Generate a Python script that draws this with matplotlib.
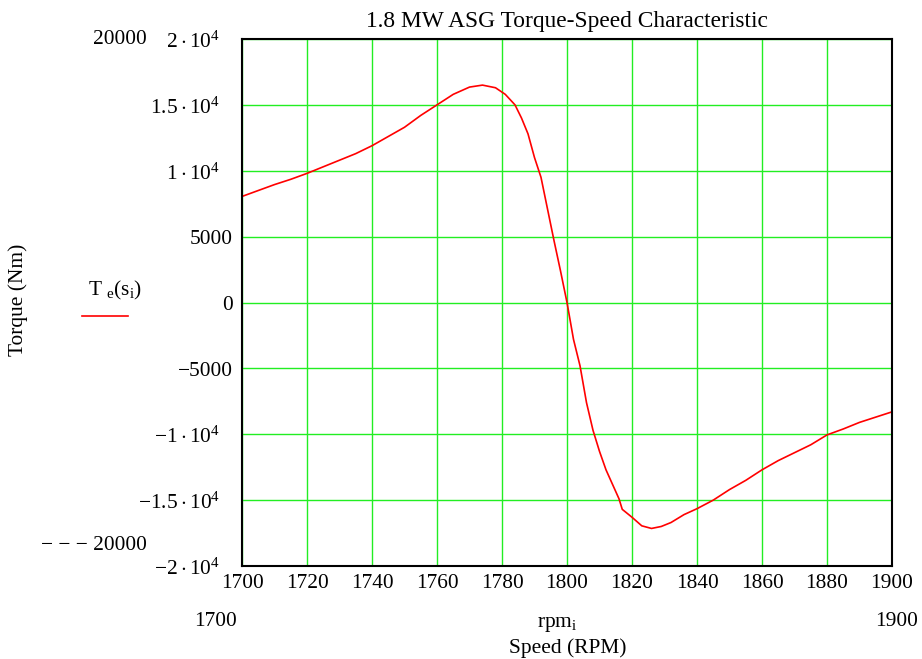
import numpy as np
import matplotlib
matplotlib.use('Agg')
import matplotlib.pyplot as plt
import matplotlib.transforms as mtransforms
from matplotlib.lines import Line2D

plt.rcParams['font.family'] = 'Liberation Serif'
plt.rcParams['mathtext.fontset'] = 'custom'
plt.rcParams['mathtext.rm'] = 'Liberation Serif'
plt.rcParams['mathtext.it'] = 'Liberation Serif'

# ---- data ----
rpm = [1700, 1705, 1710, 1715, 1720, 1725, 1730, 1735, 1740, 1745,
       1750, 1755, 1760, 1765, 1770, 1774, 1778, 1781, 1784, 1786,
       1788, 1790, 1792, 1794, 1796, 1798, 1800, 1802, 1804, 1806,
       1808, 1810, 1812, 1814, 1816, 1817, 1820, 1823, 1826, 1829,
       1832, 1836, 1840, 1845, 1850, 1855, 1860, 1865, 1870, 1875,
       1880, 1885, 1890, 1895, 1900]
torque = [8050, 8500, 8950, 9350, 9800, 10300, 10800, 11300, 11900, 12600,
          13300, 14200, 15000, 15800, 16350, 16500, 16300, 15800, 15000, 14000,
          12800, 11000, 9500, 7100, 4700, 2400, 0, -2800, -4800, -7600,
          -9700, -11300, -12700, -13800, -14900, -15700, -16300, -16950, -17150, -17000,
          -16700, -16100, -15650, -15000, -14200, -13500, -12700, -12000, -11400, -10800,
          -10050, -9600, -9100, -8700, -8300]

x_ticks = [1700, 1720, 1740, 1760, 1780, 1800, 1820, 1840, 1860, 1880, 1900]
y_ticks = [20000, 15000, 10000, 5000, 0, -5000, -10000, -15000, -20000]
y_labels = [r'$2\cdot10^{4}$', r'$1.5\cdot10^{4}$', r'$1\cdot10^{4}$', '5000', '0',
            '\u22125000', r'$-1\cdot10^{4}$', r'$-1.5\cdot10^{4}$', r'$-2\cdot10^{4}$']

fs = 15.4

fig = plt.figure(figsize=(9.22, 6.59), dpi=100)
ax = fig.add_axes([242/922, 1 - 566/659, 650/922, 527/659])

ax.plot(rpm, torque, color='red', lw=1.2)

ax.set_xlim(1700, 1900)
ax.set_ylim(-20000, 20000)
ax.set_xticks(x_ticks)
ax.set_yticks(y_ticks)
ax.set_yticklabels([])
ax.tick_params(length=0, labelsize=fs)
ax.tick_params(axis='x', pad=6)
ax.grid(True, color='#22ee22', lw=1.0)
ax.set_axisbelow(True)
for s in ax.spines.values():
    s.set_linewidth(1.5)
    s.set_color('black')

# y labels drawn by hand: Mathcad puts the power-of-ten ones further left
trans = mtransforms.blended_transform_factory(ax.transAxes, ax.transData)
trans = mtransforms.offset_copy(trans, fig=fig, y=-3, units='dots')
for v, lab in zip(y_ticks, y_labels):
    off = 22 if lab.startswith('$') else 9
    ax.text(-off / 650, v, lab, transform=trans, fontsize=fs, ha='right', va='center')

ax.set_title('1.8 MW ASG Torque-Speed Characteristic', fontsize=16.8, pad=9)

# Mathcad style extra labels
fig.text(120/922, 1 - 40/659, '20000', fontsize=fs, ha='center', va='center')
fig.text(147/922, 1 - 545/659, '\u2212 \u2212 \u2212 20000', fontsize=fs, ha='right', va='center')
fig.text(215/922, 1 - 622/659, '1700', fontsize=fs, ha='center', va='center')
fig.text(897/922, 1 - 622/659, '1900', fontsize=fs, ha='center', va='center')
fig.text(557/922, 1 - 625/659, r'rpm$_{\mathrm{i}}$', fontsize=fs, ha='center', va='center')
fig.text(568/922, 1 - 648/659, 'Speed (RPM)', fontsize=fs, ha='center', va='center')
fig.text(18/922, 1 - 300/659, 'Torque (Nm)', fontsize=fs, ha='center', va='center', rotation=90)

# legend
fig.text(115/922, 1 - 290/659, r'T $_{\mathrm{e}}(\mathrm{s}_{\mathrm{i}})$', fontsize=fs, ha='center', va='center')
fig.add_artist(Line2D([82/922, 128/922], [1 - 316/659, 1 - 316/659], color='red', lw=1.2,
                      transform=fig.transFigure))

fig.savefig('out.png', dpi=100)
